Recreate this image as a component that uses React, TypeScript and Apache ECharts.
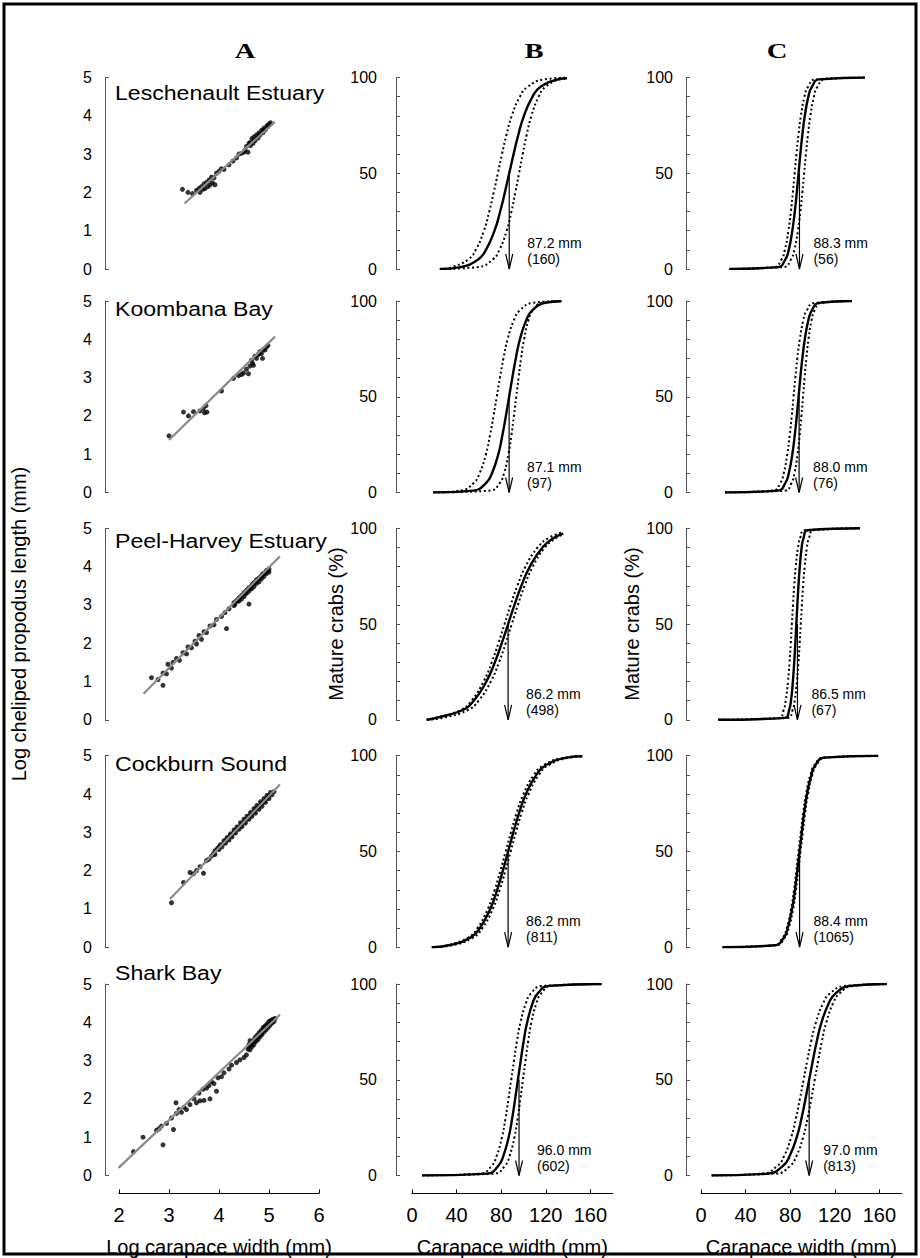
import React, { useEffect, useRef } from "react";
import * as echarts from "echarts";

// ---------------- DATA ----------------
const SITES = ["Leschenault Estuary", "Koombana Bay", "Peel-Harvey Estuary", "Cockburn Sound", "Shark Bay"];
const COLUMN_LETTERS = ["A", "B", "C"];

// Column A: log carapace width (x) vs log cheliped propodus length (y)
const LESCHENAULT_A = [
  [3.27, 2.08], [3.38, 2.0], [3.47, 1.97], [3.55, 2.05], [3.6, 2.1], [3.62, 2.0], [3.65, 2.15], [3.68, 2.08],
  [3.7, 2.22], [3.72, 2.1], [3.75, 2.26], [3.78, 2.15], [3.8, 2.32], [3.82, 2.2], [3.85, 2.4], [3.87, 2.25],
  [3.9, 2.38], [3.92, 2.2], [3.95, 2.5], [4.0, 2.55], [4.05, 2.62], [4.1, 2.6], [4.2, 2.72], [4.28, 2.82],
  [4.35, 2.9], [4.4, 3.0], [4.45, 3.02], [4.5, 3.05], [4.52, 3.1], [4.55, 3.2], [4.58, 3.05], [4.6, 3.28],
  [4.62, 3.3], [4.63, 3.22], [4.66, 3.4], [4.68, 3.28], [4.7, 3.45], [4.7, 3.38], [4.72, 3.35], [4.75, 3.5],
  [4.78, 3.42], [4.8, 3.55], [4.8, 3.5], [4.82, 3.5], [4.85, 3.62], [4.88, 3.56], [4.9, 3.68], [4.9, 3.62],
  [4.93, 3.64], [4.96, 3.74], [4.98, 3.72], [5.0, 3.78], [5.03, 3.82],
];
const KOOMBANA_A = [
  [3.0, 1.48], [3.29, 2.1], [3.39, 2.0], [3.49, 2.11], [3.62, 2.13], [3.69, 2.19], [3.74, 2.27], [3.76, 2.1],
  [3.71, 2.08], [4.05, 2.65], [4.29, 2.98], [4.39, 3.05], [4.45, 3.08], [4.49, 3.12], [4.55, 3.22], [4.59, 3.1],
  [4.62, 3.3], [4.65, 3.45], [4.67, 3.38], [4.69, 3.32], [4.72, 3.56], [4.75, 3.5], [4.78, 3.6], [4.8, 3.62],
  [4.82, 3.68], [4.85, 3.63], [4.87, 3.5], [4.89, 3.74], [4.92, 3.72], [4.95, 3.8], [4.98, 3.84],
];
const PEEL_A = [
  [2.65, 1.1], [2.78, 1.05], [2.88, 0.9], [2.88, 1.22], [2.95, 1.2], [2.98, 1.45], [3.05, 1.35], [3.08, 1.5],
  [3.15, 1.6], [3.21, 1.55], [3.28, 1.75], [3.35, 1.72], [3.38, 1.9], [3.45, 1.88], [3.52, 2.05], [3.55, 1.98],
  [3.6, 2.2], [3.65, 2.1], [3.7, 2.3], [3.75, 2.28], [3.82, 2.45], [3.9, 2.48], [3.95, 2.62], [4.05, 2.7],
  [4.12, 2.8], [4.15, 2.38], [4.2, 2.9], [4.3, 3.06], [4.3, 2.98], [4.32, 3.02], [4.35, 3.12], [4.37, 3.1],
  [4.4, 3.18], [4.4, 3.1], [4.42, 3.2], [4.45, 3.24], [4.45, 3.15], [4.47, 3.26], [4.5, 3.32], [4.5, 3.22],
  [4.52, 3.3], [4.55, 3.38], [4.55, 3.3], [4.57, 3.4], [4.6, 3.45], [4.6, 3.36], [4.6, 3.02], [4.62, 3.44],
  [4.65, 3.5], [4.65, 3.42], [4.67, 3.54], [4.7, 3.58], [4.7, 3.48], [4.72, 3.58], [4.75, 3.65], [4.75, 3.56],
  [4.77, 3.66], [4.8, 3.7], [4.8, 3.6], [4.82, 3.72], [4.85, 3.76], [4.85, 3.68], [4.87, 3.8], [4.9, 3.82],
  [4.9, 3.74], [4.92, 3.84], [4.95, 3.9], [4.95, 3.82], [4.97, 3.9], [5.0, 3.94], [5.0, 3.86],
];
const COCKBURN_A = [
  [3.05, 1.16], [3.29, 1.69], [3.42, 1.95], [3.49, 1.92], [3.55, 2.0], [3.62, 2.1], [3.69, 1.93], [3.75, 2.26],
  [3.8, 2.3], [3.85, 2.38], [3.89, 2.44], [3.92, 2.52], [3.92, 2.42], [3.97, 2.58], [4.0, 2.55], [4.0, 2.62],
  [4.03, 2.68], [4.06, 2.62], [4.1, 2.78], [4.1, 2.72], [4.13, 2.72], [4.15, 2.8], [4.16, 2.86], [4.2, 2.8],
  [4.2, 2.88], [4.23, 2.96], [4.25, 2.93], [4.26, 2.88], [4.3, 3.06], [4.3, 3.0], [4.33, 2.98], [4.35, 3.07],
  [4.36, 3.14], [4.4, 3.08], [4.4, 3.14], [4.43, 3.25], [4.45, 3.2], [4.46, 3.15], [4.5, 3.34], [4.5, 3.27],
  [4.53, 3.24], [4.55, 3.34], [4.56, 3.42], [4.6, 3.34], [4.6, 3.42], [4.63, 3.52], [4.65, 3.48], [4.66, 3.42],
  [4.7, 3.62], [4.7, 3.54], [4.73, 3.5], [4.75, 3.61], [4.76, 3.7], [4.8, 3.6], [4.8, 3.68], [4.83, 3.8],
  [4.85, 3.75], [4.86, 3.68], [4.9, 3.88], [4.9, 3.8], [4.93, 3.78], [4.95, 3.88], [4.96, 3.96], [5.0, 3.88],
  [5.0, 3.96], [5.03, 4.04], [5.06, 3.98], [5.1, 4.06],
];
const SHARK_A = [
  [2.29, 0.62], [2.48, 1.0], [2.88, 0.8], [2.75, 1.18], [2.8, 1.22], [2.85, 1.29], [2.95, 1.36], [3.09, 1.2],
  [3.05, 1.5], [3.14, 1.9], [3.15, 1.62], [3.2, 1.72], [3.25, 1.65], [3.3, 1.78], [3.35, 1.72], [3.42, 1.85],
  [3.5, 2.0], [3.55, 1.9], [3.6, 2.15], [3.62, 1.95], [3.68, 2.25], [3.7, 1.96], [3.75, 2.28], [3.8, 2.35],
  [3.82, 2.0], [3.85, 2.45], [3.9, 2.4], [3.95, 2.2], [3.98, 2.55], [4.05, 2.58], [4.1, 2.68], [4.2, 2.78],
  [4.25, 2.88], [4.35, 2.95], [4.42, 3.02], [4.5, 3.08], [4.55, 3.15], [4.58, 3.3], [4.6, 3.42], [4.6, 3.35],
  [4.62, 3.28], [4.62, 3.52], [4.64, 3.45], [4.65, 3.42], [4.66, 3.36], [4.68, 3.52], [4.7, 3.42], [4.7, 3.5],
  [4.72, 3.6], [4.74, 3.5], [4.75, 3.58], [4.76, 3.66], [4.78, 3.55], [4.8, 3.72], [4.8, 3.65], [4.82, 3.62],
  [4.84, 3.78], [4.85, 3.72], [4.86, 3.68], [4.88, 3.86], [4.9, 3.75], [4.9, 3.82], [4.92, 3.9], [4.94, 3.8],
  [4.95, 3.88], [4.96, 3.96], [4.98, 3.86], [5.0, 4.02], [5.0, 3.95], [5.02, 3.92], [5.04, 4.05], [5.05, 4.0],
  [5.06, 3.98], [5.08, 4.08], [5.1, 4.02], [5.12, 4.1],
];
const SCATTER_A = [LESCHENAULT_A, KOOMBANA_A, PEEL_A, COCKBURN_A, SHARK_A];
const REGRESSION_A = [
  [[3.31, 1.71], [5.12, 3.84]],
  [[3.0, 1.37], [5.12, 4.07]],
  [[2.49, 0.68], [5.22, 4.27]],
  [[3.02, 1.26], [5.22, 4.25]],
  [[1.99, 0.2], [5.22, 4.2]],
];

// Columns B and C: carapace width (mm) at which each percentage level of mature crabs is reached
const PCT_LEVELS = [1, 5, 10, 20, 30, 40, 50, 60, 70, 80, 90, 95, 99];

const B_L50 = [87.2, 87.1, 86.2, 86.2, 96.0];
const B_N = [160, 97, 498, 811, 602];
const B_START = [25, 19.1, 13.2, 17.8, 9.3];
const B_END = [139, 134, 135.7, 152.8, 170];
const B_END_PCT = [[99.6, 99.9, 99.5], [99.9, 100, 100], [97.2, 98, 96.9], [99.7, 99.8, 99.6], [100, 100, 100]];
const B_FIT = [
  [43.5, 59.3, 66.3, 74.0, 79.1, 83.3, 87.2, 91.1, 95.3, 100.4, 108.1, 115.1, 130.9],
  [54.9, 66.5, 71.7, 77.4, 81.1, 84.2, 87.1, 90.0, 93.1, 96.8, 102.5, 107.7, 119.3],
  [21.8, 45.0, 55.4, 66.7, 74.3, 80.5, 86.2, 91.9, 98.1, 105.7, 117.0, 127.4],
  [33.3, 52.4, 60.9, 70.2, 76.4, 81.5, 86.2, 90.9, 96.0, 102.2, 111.5, 120.0, 139.1],
  [67.4, 77.4, 81.8, 86.7, 89.9, 92.5, 95.0, 97.5, 100.1, 103.3, 108.2, 112.6, 122.6],
];
const B_UPPER = [
  [35.6, 50.5, 57.2, 64.5, 69.3, 73.3, 77.0, 80.7, 84.7, 89.5, 96.8, 103.5, 118.4],
  [43.8, 55.4, 60.6, 66.3, 70.0, 73.1, 76.0, 78.9, 82.0, 85.7, 91.4, 96.6, 108.2],
  [20.9, 43.3, 53.3, 64.2, 71.5, 77.5, 83.0, 88.5, 94.5, 101.8, 112.7, 122.7],
  [31.1, 50.2, 58.7, 68.0, 74.2, 79.3, 84.0, 88.7, 93.8, 100.0, 109.3, 117.8, 136.9],
  [61.4, 71.4, 75.8, 80.7, 83.9, 86.5, 89.0, 91.5, 94.1, 97.3, 102.2, 106.6, 116.6],
];
const B_LOWER = [
  [59.2, 72.5, 78.4, 84.9, 89.2, 92.7, 96.0, 99.3, 102.8, 107.1, 113.6, 119.5, 132.8],
  [70.5, 78.8, 82.5, 86.5, 89.2, 91.4, 93.5, 95.6, 97.8, 100.5, 104.5, 108.2, 116.5],
  [27.4, 49.8, 59.8, 70.7, 78.0, 84.0, 89.5, 95.0, 101.0, 108.3, 119.2, 129.2],
  [35.6, 54.7, 63.2, 72.5, 78.7, 83.8, 88.5, 93.2, 98.3, 104.5, 113.8, 122.3, 141.4],
  [74.2, 83.3, 87.4, 91.9, 94.8, 97.2, 99.5, 101.8, 104.2, 107.1, 111.6, 115.7, 124.8],
];

const C_L50 = [88.3, 88.0, 86.5, 88.4, 97.0];
const C_N = [56, 76, 67, 1065, 813];
const C_START = [25.4, 21.5, 15.5, 19.4, 9.6];
const C_END = [147, 135.2, 142.6, 159, 166.5];
const C_END_PCT = [[100, 100, 100], [100, 100, 100], [100, 100, 100], [100, 100, 100], [100, 100, 100]];
const C_FIT = [
  [69.1, 75.7, 78.7, 81.9, 84.1, 85.9, 87.5, 89.1, 90.9, 93.1, 96.3, 99.3, 105.9],
  [69.1, 75.7, 78.7, 81.9, 84.1, 85.9, 87.5, 89.1, 90.9, 93.1, 96.3, 99.3, 105.9],
  [75.4, 79.0, 80.7, 82.4, 83.6, 84.6, 85.5, 86.4, 87.4, 88.6, 90.3, 92.0, 95.6],
  [66.3, 74.3, 77.8, 81.7, 84.3, 86.4, 88.4, 90.4, 92.5, 95.1, 99.0, 102.5, 110.5],
  [60.2, 73.5, 79.4, 85.9, 90.2, 93.7, 97.0, 100.3, 103.8, 108.1, 114.6, 120.5, 133.8],
];
const C_UPPER = [
  [65.6, 72.2, 75.2, 78.4, 80.6, 82.4, 84.0, 85.6, 87.4, 89.6, 92.8, 95.8, 102.4],
  [64.6, 71.2, 74.2, 77.4, 79.6, 81.4, 83.0, 84.6, 86.4, 88.6, 91.8, 94.8, 101.4],
  [70.0, 74.1, 76.0, 78.0, 79.4, 80.5, 81.5, 82.5, 83.6, 85.0, 87.0, 88.9, 93.0],
  [65.4, 73.4, 76.9, 80.8, 83.4, 85.5, 87.5, 89.5, 91.6, 94.2, 98.1, 101.6, 109.6],
  [55.2, 68.5, 74.4, 80.9, 85.2, 88.7, 92.0, 95.3, 98.8, 103.1, 109.6, 115.5, 128.8],
];
const C_LOWER = [
  [74.1, 80.7, 83.7, 86.9, 89.1, 90.9, 92.5, 94.1, 95.9, 98.1, 101.3, 104.3, 110.9],
  [75.4, 81.2, 83.8, 86.6, 88.5, 90.1, 91.5, 92.9, 94.5, 96.4, 99.2, 101.8, 107.6],
  [78.0, 82.1, 84.0, 86.0, 87.4, 88.5, 89.5, 90.5, 91.6, 93.0, 95.0, 96.9, 101.0],
  [67.2, 75.2, 78.7, 82.6, 85.2, 87.3, 89.3, 91.3, 93.4, 96.0, 99.9, 103.4, 111.4],
  [67.5, 79.9, 85.5, 91.6, 95.6, 98.9, 102.0, 105.1, 108.4, 112.4, 118.5, 124.1, 136.5],
];

const A_Y_TICKS = [0, 5];
const BC_Y_TICKS = [0, 10, 20, 30, 40, 50, 60, 70, 80, 90, 100];
const BC_Y_LABELS = [0, 50, 100];
const BC_X_TICKS = [0, 40, 80, 120, 160];

// ---------------- LAYOUT ----------------
const W = 920;
const H = 1258;
const ROW_TOPS = [77.5, 301, 528.3, 755.7, 984];
const ROW_H = 191.5;
const COL_LEFT = [119, 412, 701];
const COL_W = [200, 200.7, 200.7];
const Y_OFFSET = [14, 16, 15];
const Y_LABEL_MARGIN = [13, 19, 13];
const Y_NAME_GAP = [76, 50, 44];
const SITE_LABEL_Y = [93, 309, 541, 764, 973];
const LETTER_X = [245, 534, 777];
const SANS = '"Liberation Sans", Arial, Helvetica, sans-serif';
const SERIF = '"Liberation Serif", "Times New Roman", serif';

function buildCurve(start: number, end: number, endPct: number, xs: number[]) {
  const pts: number[][] = [[start, 0]];
  xs.forEach((x, i) => {
    if (x > start && x < end) pts.push([x, PCT_LEVELS[i]]);
  });
  pts.push([end, endPct]);
  return pts;
}

function buildOption() {
  const grid: any[] = [];
  const xAxis: any[] = [];
  const yAxis: any[] = [];
  const series: any[] = [];

  for (let r = 0; r < 5; r++) {
    for (let c = 0; c < 3; c++) {
      const k = r * 3 + c;
      const bottomRow = r === 4;
      grid.push({ left: COL_LEFT[c], top: ROW_TOPS[r], width: COL_W[c], height: ROW_H, containLabel: false });
      xAxis.push({
        gridIndex: k,
        type: "value",
        min: c === 0 ? 2 : 0,
        max: c === 0 ? 6 : 180,
        interval: c === 0 ? 1 : 40,
        show: bottomRow,
        position: "bottom",
        offset: 18,
        axisLine: { show: true, onZero: false, lineStyle: { color: "#000", width: 1 } },
        axisTick: {
          show: true,
          inside: true,
          length: 4,
          lineStyle: { color: "#000" },
          ...(c === 0 ? {} : { customValues: BC_X_TICKS }),
        },
        axisLabel: {
          color: "#000",
          fontSize: 20,
          fontFamily: SANS,
          margin: 11,
          ...(c === 0 ? {} : { customValues: BC_X_TICKS }),
        },
        splitLine: { show: false },
        name: bottomRow ? (c === 0 ? "Log carapace width (mm)" : "Carapace width (mm)") : "",
        nameLocation: "middle",
        nameGap: 43,
        nameTextStyle: { color: "#000", fontSize: 20, fontFamily: SANS },
      });
      yAxis.push({
        gridIndex: k,
        type: "value",
        min: 0,
        max: c === 0 ? 5 : 100,
        interval: c === 0 ? 1 : 10,
        offset: Y_OFFSET[c],
        axisLine: { show: true, onZero: false, lineStyle: { color: "#555", width: 1 } },
        axisTick: {
          show: true,
          inside: true,
          length: 4,
          lineStyle: { color: "#555" },
          customValues: c === 0 ? A_Y_TICKS : BC_Y_TICKS,
        },
        axisLabel: {
          color: "#000",
          fontSize: 16,
          fontFamily: SANS,
          margin: Y_LABEL_MARGIN[c],
          ...(c === 0 ? {} : { customValues: BC_Y_LABELS }),
        },
        splitLine: { show: false },
        name: r === 2 ? (c === 0 ? "Log cheliped propodus length (mm)" : "Mature crabs (%)") : "",
        nameLocation: "middle",
        nameRotate: 90,
        nameGap: Y_NAME_GAP[c],
        nameTextStyle: { color: "#000", fontSize: 20, fontFamily: SANS },
      });

      if (c === 0) {
        series.push({
          type: "scatter",
          xAxisIndex: k,
          yAxisIndex: k,
          data: SCATTER_A[r],
          symbol: "circle",
          symbolSize: 5,
          itemStyle: { color: "#000" },
          z: 2,
        });
        series.push({
          type: "line",
          xAxisIndex: k,
          yAxisIndex: k,
          data: REGRESSION_A[r],
          symbol: "none",
          lineStyle: { color: "#8a8a8a", width: 2.2 },
          z: 3,
        });
      } else {
        const isB = c === 1;
        const start = (isB ? B_START : C_START)[r];
        const end = (isB ? B_END : C_END)[r];
        const endPct = (isB ? B_END_PCT : C_END_PCT)[r];
        const fit = (isB ? B_FIT : C_FIT)[r];
        const upper = (isB ? B_UPPER : C_UPPER)[r];
        const lower = (isB ? B_LOWER : C_LOWER)[r];
        const l50 = (isB ? B_L50 : C_L50)[r];
        const n = (isB ? B_N : C_N)[r];
        const common = {
          type: "line",
          xAxisIndex: k,
          yAxisIndex: k,
          symbol: "none",
          smooth: 0.5,
        };
        series.push({ ...common, data: buildCurve(start, end, endPct[1], upper), lineStyle: { color: "#000", width: 2, type: [2, 2.6] }, z: 2 });
        series.push({ ...common, data: buildCurve(start, end, endPct[2], lower), lineStyle: { color: "#000", width: 2, type: [2, 2.6] }, z: 2 });
        series.push({ ...common, data: buildCurve(start, end, endPct[0], fit), lineStyle: { color: "#000", width: 2.4 }, z: 3 });
        const textOffset = isB ? 18 : 14;
        series.push({
          type: "custom",
          coordinateSystem: "cartesian2d",
          xAxisIndex: k,
          yAxisIndex: k,
          data: [[l50, n]],
          z: 4,
          renderItem: (params: any, api: any) => {
            const v = api.value(0);
            const cnt = api.value(1);
            const top = api.coord([v, 50]);
            const bot = api.coord([v, 0]);
            return {
              type: "group",
              children: [
                {
                  type: "line",
                  shape: { x1: top[0], y1: top[1], x2: bot[0], y2: bot[1] },
                  style: { stroke: "#000", lineWidth: 1.2 },
                },
                {
                  type: "polyline",
                  shape: { points: [[bot[0] - 3.5, bot[1] - 15], [bot[0], bot[1]], [bot[0] + 3.5, bot[1] - 15]] },
                  style: { stroke: "#000", lineWidth: 1.2, fill: "none" },
                },
                {
                  type: "text",
                  x: bot[0] + textOffset,
                  y: bot[1] - 26,
                  style: {
                    text: `${Number(v).toFixed(1)} mm`,
                    font: `14px ${SANS}`,
                    fill: "#000",
                    align: "left",
                    verticalAlign: "middle",
                  },
                },
                {
                  type: "text",
                  x: bot[0] + textOffset,
                  y: bot[1] - 10,
                  style: {
                    text: `(${cnt})`,
                    font: `14px ${SANS}`,
                    fill: "#000",
                    align: "left",
                    verticalAlign: "middle",
                  },
                },
              ],
            };
          },
        });
      }
    }
  }

  const graphic: any[] = [
    {
      type: "rect",
      shape: { x: 4, y: 4, width: 912, height: 1250 },
      style: { fill: "none", stroke: "#000", lineWidth: 3 },
      silent: true,
    },
  ];
  COLUMN_LETTERS.forEach((letter, i) => {
    graphic.push({
      type: "text",
      x: LETTER_X[i],
      y: 50.5,
      scaleX: 1.3,
      style: {
        text: letter,
        font: `bold 22px ${SERIF}`,
        fill: "#000",
        align: "center",
        verticalAlign: "middle",
      },
    });
  });
  SITES.forEach((site, i) => {
    graphic.push({
      type: "text",
      x: 115,
      y: SITE_LABEL_Y[i],
      scaleX: 1.1,
      style: {
        text: site,
        font: `21px ${SANS}`,
        fill: "#000",
        align: "left",
        verticalAlign: "middle",
      },
    });
  });

  return {
    animation: false,
    backgroundColor: "#fff",
    grid,
    xAxis,
    yAxis,
    series,
    graphic,
  };
}

export default function App() {
  const ref = useRef<HTMLDivElement>(null);
  useEffect(() => {
    if (!ref.current) return;
    const chart = echarts.init(ref.current, undefined, { renderer: "svg", width: W, height: H });
    chart.setOption(buildOption() as any);
    return () => {
      chart.dispose();
    };
  }, []);
  return (
    <div
      ref={ref}
      style={{ position: "absolute", left: 0, top: 0, width: W, height: H, background: "#fff" }}
    />
  );
}
